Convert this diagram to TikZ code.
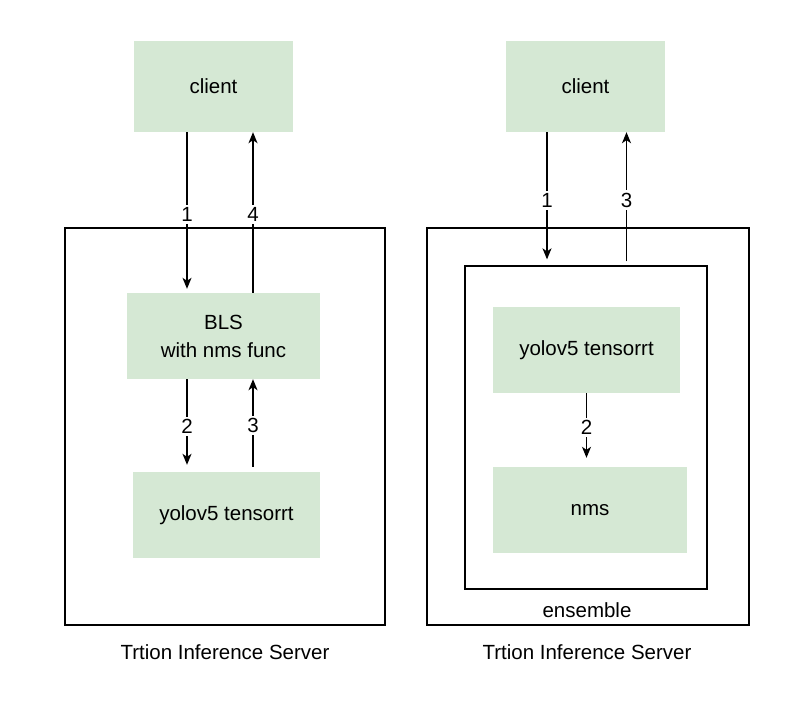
\documentclass[tikz,border=0pt]{standalone}
\usepackage{fontspec}
\setmainfont{Liberation Sans}
\usetikzlibrary{arrows.meta}
\definecolor{boxgreen}{HTML}{D5E8D4}
\tikzset{
  greenbox/.style={fill=boxgreen, draw=none, inner sep=0pt, align=center,
    font=\fontsize{20.5}{28}\selectfont},
  frame/.style={draw=black, line width=1.3pt, fill=none, inner sep=0pt},
  arr/.style={line width=1.3pt, -{Stealth[length=11pt,width=9pt,inset=3pt]}},
  num/.style={fill=white, inner sep=2.5pt, font=\fontsize{20.5}{22}\selectfont},
  caption/.style={font=\fontsize{20.5}{22}\selectfont, inner sep=0pt}
}
\begin{document}
\begin{tikzpicture}[x=1pt, y=-1pt]
\useasboundingbox (0,0) rectangle (787,721);
% server frames
\node [frame, minimum width=320pt, minimum height=397pt] (srvA) at (225,426.5) {};
\node [frame, minimum width=322pt, minimum height=397pt] (srvB) at (588,426.5) {};
\node [frame, minimum width=242pt, minimum height=323pt] (ens) at (586,427.5) {};
% boxes
\node [greenbox, minimum width=159pt, minimum height=91pt] (clA) at (213.5,86.5) {client};
\node [greenbox, minimum width=159pt, minimum height=91pt] (clB) at (585.5,86.5) {client};
\node [greenbox, minimum width=193pt, minimum height=86pt] (bls) at (223.5,336) {BLS\\with nms func};
\node [greenbox, minimum width=187pt, minimum height=86pt] (yoloA) at (226.5,515) {yolov5 tensorrt};
\node [greenbox, minimum width=187pt, minimum height=86pt] (yoloB) at (586.5,350) {yolov5 tensorrt};
\node [greenbox, minimum width=194pt, minimum height=86pt] (nms) at (590,510) {nms};
% captions
\node [caption] (capA) at (225,652) {Trtion Inference Server};
\node [caption] (capB) at (587,652) {Trtion Inference Server};
\node [caption] (capE) at (587,610) {ensemble};
% left side
\draw [arr, shorten >=4pt] ([xshift=-26.5pt]clA.south) coordinate (a1) -- (a1 |- bls.north) node [num, pos=0.51] {1};
\draw [arr] ([xshift=29.5pt]bls.north) coordinate (a4) -- (a4 |- clA.south) node [num, pos=0.49] {4};
\draw [arr, shorten >=7pt] ([xshift=-36.5pt]bls.south) coordinate (a2) -- (a2 |- yoloA.north) node [num, pos=0.51] {2};
\draw [arr, shorten <=5pt] ([xshift=26.5pt]yoloA.north) coordinate (a3) -- (a3 |- bls.south) node [num, pos=0.5] {3};
% right side
\draw [arr, shorten >=6pt] ([xshift=-38.5pt]clB.south) coordinate (b1) -- (b1 |- ens.north) node [num, pos=0.51] {1};
\draw [arr, shorten <=4pt] ([xshift=40.5pt]ens.north) coordinate (b3) -- (b3 |- clB.south) node [num, pos=0.49] {3};
\draw [arr, shorten >=9pt] (yoloB.south) coordinate (b2) -- (b2 |- nms.north) node [num, pos=0.47] {2};
\end{tikzpicture}
\end{document}
